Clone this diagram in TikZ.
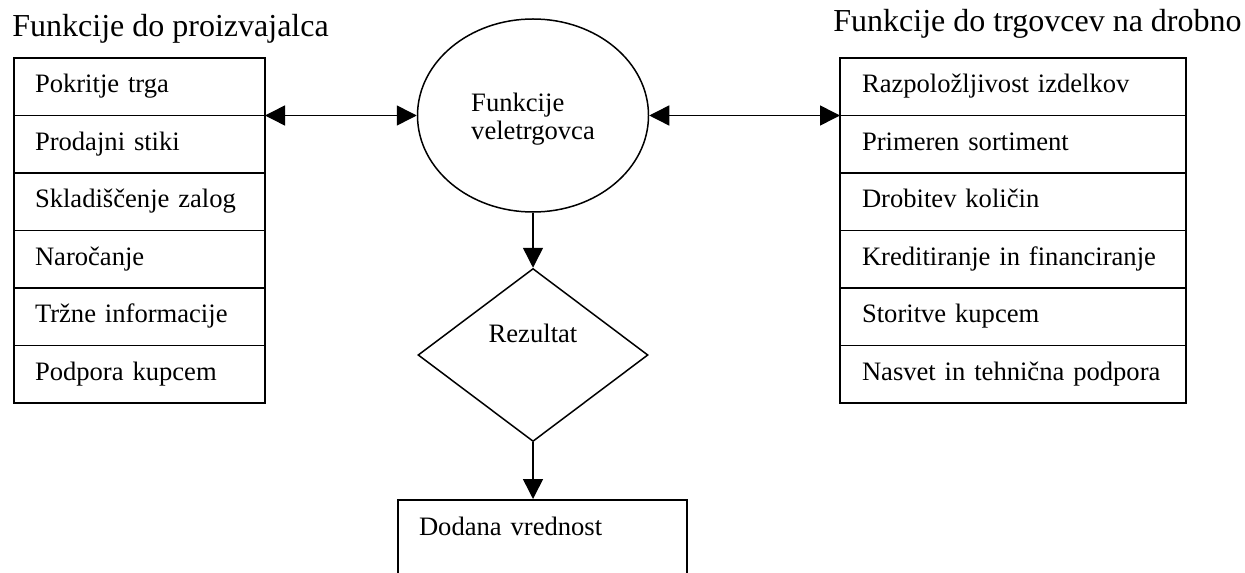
\documentclass[tikz,border=0pt]{standalone}
\usepackage{fontspec}
\setmainfont{Liberation Serif}
\usetikzlibrary{arrows.meta, positioning, shapes.geometric}

\begin{document}
\begin{tikzpicture}[
    x=0.5pt, y=-0.5pt,
    every node/.style={font=\fontsize{13.3}{14}\selectfont},
    title/.style={font=\fontsize{16}{18}\selectfont, anchor=base west, inner sep=0pt},
    lrow/.style={rectangle, draw, line width=0.75pt, outer sep=0pt, minimum width=125.5pt, minimum height=28.75pt, inner xsep=10.5pt, text width=104.5pt, align=left, text height=9.1pt, text depth=2.9pt},
    rrow/.style={rectangle, draw, line width=0.75pt, outer sep=0pt, minimum width=173pt, minimum height=28.75pt, inner xsep=11pt, text width=151pt, align=left, text height=9.1pt, text depth=2.9pt},
    hub/.style={ellipse, draw, line width=0.75pt, minimum width=115.5pt, minimum height=96.5pt, inner sep=0pt, align=left, text height=27.1pt, text depth=2.9pt},
    result/.style={diamond, draw, line width=0.75pt, minimum width=115pt, minimum height=86.5pt, aspect=1.33, inner sep=0pt, text height=9pt, text depth=21.4pt},
    valuebox/.style={rectangle, draw, line width=0.75pt, anchor=north, minimum width=144.5pt, inner xsep=10.5pt, inner ysep=0pt, text width=123.5pt, align=left, text height=18pt, text depth=42pt},
    arrow/.style={line width=0.75pt, -{Triangle[length=10pt, width=10pt]}},
    biarrow/.style={line width=0.75pt, {Triangle[length=10pt, width=10pt]}-{Triangle[length=10pt, width=10pt]}}
]
\useasboundingbox (0,0) rectangle (1245,572);

\node[title] (ltitle) at (12,37) {Funkcije do proizvajalca};
\node[title] (rtitle) at (833,32) {Funkcije do trgovcev na drobno};

% Functions towards the producer
\node[lrow] (l1) at (139.5,86.75) {Pokritje trga};
\node[lrow, below=0pt of l1] (l2) {Prodajni stiki};
\node[lrow, below=0pt of l2] (l3) {Skladiščenje zalog};
\node[lrow, below=0pt of l3] (l4) {Naročanje};
\node[lrow, below=0pt of l4] (l5) {Tržne informacije};
\node[lrow, below=0pt of l5] (l6) {Podpora kupcem};

% Functions towards the retailers
\node[rrow] (r1) at (1013,86.75) {Razpoložljivost izdelkov};
\node[rrow, below=0pt of r1] (r2) {Primeren sortiment};
\node[rrow, below=0pt of r2] (r3) {Drobitev količin};
\node[rrow, below=0pt of r3] (r4) {Kreditiranje in financiranje};
\node[rrow, below=0pt of r4] (r5) {Storitve kupcem};
\node[rrow, below=0pt of r5] (r6) {Nasvet in tehnična podpora};

\node[hub] (hub) at (533,115.5) {Funkcije\\veletrgovca};
\node[result] (res) at (533,355) {Rezultat};
\node[valuebox] (value) at (542.5,499) {Dodana vrednost};

\draw[biarrow] (l1.south east) -- (hub.west);
\draw[biarrow] (hub.east) -- (r1.south west);
\draw[arrow] (hub.south) -- (res.north);
\draw[arrow] (res.south) -- (res.south |- value.north);

\end{tikzpicture}
\end{document}
